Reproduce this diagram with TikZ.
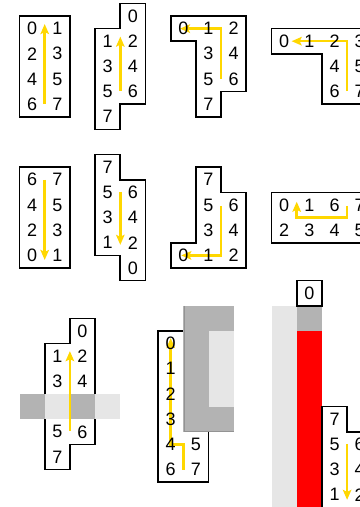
\documentclass[tikz,border=0pt]{standalone}
\usepackage{fontspec}
\setmainfont{Liberation Sans}
\usetikzlibrary{arrows.meta}
\definecolor{ylw}{RGB}{255,215,0}
\definecolor{dgray}{RGB}{179,179,179}
\definecolor{lgray}{RGB}{230,230,230}
\definecolor{rred}{RGB}{255,0,0}
\tikzset{
 cellbox/.style={draw=black, line width=1.7pt, fill=white, line join=miter},
 lbl/.style={font=\fontsize{18}{20}\selectfont, inner sep=0pt, anchor=center},
 yarr/.style={draw=ylw, line width=2.6pt, line join=miter, -{Stealth[length=10pt,width=8.5pt,inset=2pt]}},
 darkcell/.style={fill=dgray, draw=none},
 lightcell/.style={fill=lgray, draw=none},
}
\begin{document}
\begin{tikzpicture}[x=25.2pt,y=-25.2pt]
\useasboundingbox (-0.7738,-0.6349) rectangle (13.5119,19.4841);
\clip (-0.7738,-0.6349) rectangle (13.5119,19.4841);
\fill[white] (-0.7738,-0.6349) rectangle (13.5119,19.4841);

% shape 1
\draw[cellbox] (0,0) rectangle (2,4);
\draw[yarr] (1,3.5) -- (1,0.32);
\foreach \t/\x/\y in {0/0.5/0.5,1/1.5/0.5,2/0.5/1.5,3/1.5/1.5,4/0.5/2.5,5/1.5/2.5,6/0.5/3.5,7/1.5/3.5}
  \node[lbl] (a\t) at (\x,\y) {\t};

% shape 2
\draw[cellbox] (4,-0.5) -- (5,-0.5) -- (5,3.5) -- (4,3.5) -- (4,4.5) -- (3,4.5) -- (3,0.5) -- (4,0.5) -- cycle;
\draw[yarr] (4,2.98) -- (4,0.82);
\foreach \t/\x/\y in {0/4.5/0,1/3.5/1,2/4.5/1,3/3.5/2,4/4.5/2,5/3.5/3,6/4.5/3,7/3.5/4}
  \node[lbl] (b\t) at (\x,\y) {\t};

% shape 3
\draw[cellbox] (6,0) -- (9,0) -- (9,3) -- (8,3) -- (8,4) -- (7,4) -- (7,1) -- (6,1) -- cycle;
\draw[yarr] (8,2.5) -- (8,0.5) -- (6.37,0.5);
\foreach \t/\x/\y in {0/6.5/0.5,1/7.5/0.5,2/8.5/0.5,3/7.5/1.5,4/8.5/1.5,5/7.5/2.5,6/8.5/2.5,7/7.5/3.5}
  \node[lbl] (c\t) at (\x,\y) {\t};

% shape 4
\draw[cellbox] (10,0.5) -- (14,0.5) -- (14,3.5) -- (12,3.5) -- (12,1.5) -- (10,1.5) -- cycle;
\draw[yarr] (13,2.98) -- (13,1) -- (10.8,1);
\foreach \t/\x/\y in {0/10.5/1,1/11.5/1,2/12.5/1,3/13.5/1,4/12.5/2,5/13.5/2,6/12.5/3,7/13.5/3}
  \node[lbl] (d\t) at (\x,\y) {\t};

% shape 5
\draw[cellbox] (0,6) rectangle (2,10);
\draw[yarr] (1,6.5) -- (1,9.68);
\foreach \t/\x/\y in {6/0.5/6.5,7/1.5/6.5,4/0.5/7.5,5/1.5/7.5,2/0.5/8.5,3/1.5/8.5,0/0.5/9.5,1/1.5/9.5}
  \node[lbl] (e\t) at (\x,\y) {\t};

% shape 6
\draw[cellbox] (3,5.5) -- (4,5.5) -- (4,6.5) -- (5,6.5) -- (5,10.5) -- (4,10.5) -- (4,9.5) -- (3,9.5) -- cycle;
\draw[yarr] (4,6.98) -- (4,9.08);
\foreach \t/\x/\y in {7/3.5/6,5/3.5/7,6/4.5/7,3/3.5/8,4/4.5/8,1/3.5/9,2/4.5/9,0/4.5/10}
  \node[lbl] (f\t) at (\x,\y) {\t};

% shape 7
\draw[cellbox] (7,6) -- (8,6) -- (8,7) -- (9,7) -- (9,10) -- (6,10) -- (6,9) -- (7,9) -- cycle;
\draw[yarr] (8,7.53) -- (8,9.5) -- (6.42,9.5);
\foreach \t/\x/\y in {7/7.5/6.5,5/7.5/7.5,6/8.5/7.5,3/7.5/8.5,4/8.5/8.5,0/6.5/9.5,1/7.5/9.5,2/8.5/9.5}
  \node[lbl] (g\t) at (\x,\y) {\t};

% shape 8
\draw[cellbox] (10,7) rectangle (14,9);
\draw[yarr] (13,7.53) -- (13,8) -- (11,8) -- (11,7.37);
\foreach \t/\x/\y in {0/10.5/7.5,1/11.5/7.5,6/12.5/7.5,7/13.5/7.5,2/10.5/8.5,3/11.5/8.5,4/12.5/8.5,5/13.5/8.5}
  \node[lbl] (h\t) at (\x,\y) {\t};

% shape 9
\draw[cellbox] (2,12) -- (3,12) -- (3,17) -- (2,17) -- (2,18) -- (1,18) -- (1,13) -- (2,13) -- cycle;
\fill[darkcell] (0,15) rectangle (1,16);
\fill[lightcell] (1,15) rectangle (2,16);
\fill[darkcell] (2,15) rectangle (3,16);
\fill[lightcell] (3,15) rectangle (4,16);
\draw[yarr] (2,16.47) -- (2,13.3);
\foreach \t/\x/\y in {0/2.5/12.5,1/1.5/13.5,2/2.5/13.5,3/1.5/14.5,4/2.5/14.5,5/1.5/16.5,6/2.5/16.5,7/1.5/17.5}
  \node[lbl] (i\t) at (\x,\y) {\t};

% shape 10
\draw[cellbox] (5.5,12.5) rectangle (7.5,18.5);
\fill[darkcell] (6.5,11.5) rectangle (8.5,16.5);
\fill[lightcell] (7.5,12.5) rectangle (8.5,15.5);
\draw[gray!85, line width=0.6pt] (6.52,11.5) -- (6.52,16.48) -- (8.5,16.48);
\draw[yarr] (6.5,18) -- (6.5,17) -- (6,17) -- (6,12.78);
\foreach \t/\x/\y in {0/6/13,1/6/14,2/6/15,3/6/16,4/6/17,5/7/17,6/6/18,7/7/18}
  \node[lbl] (j\t) at (\x,\y) {\t};

% shape 11
\fill[lightcell] (10,11.5) rectangle (11,19.6);
\fill[darkcell] (11,11.5) rectangle (12,12.5);
\fill[rred] (11,12.5) rectangle (12,19.6);
\draw[cellbox] (11,10.5) rectangle (12,11.5);
\node[lbl] (k0) at (11.5,11) {0};

% shape 12
\draw[cellbox] (12,15.5) -- (13,15.5) -- (13,16.5) -- (14,16.5) -- (14,20.5) -- (13,20.5) -- (13,19.5) -- (12,19.5) -- cycle;
\draw[yarr] (13,16.98) -- (13,19.2);
\foreach \t/\x/\y in {7/12.5/16,5/12.5/17,6/13.5/17,3/12.5/18,4/13.5/18,1/12.5/19,2/13.5/19}
  \node[lbl] (m\t) at (\x,\y) {\t};
\end{tikzpicture}
\end{document}
